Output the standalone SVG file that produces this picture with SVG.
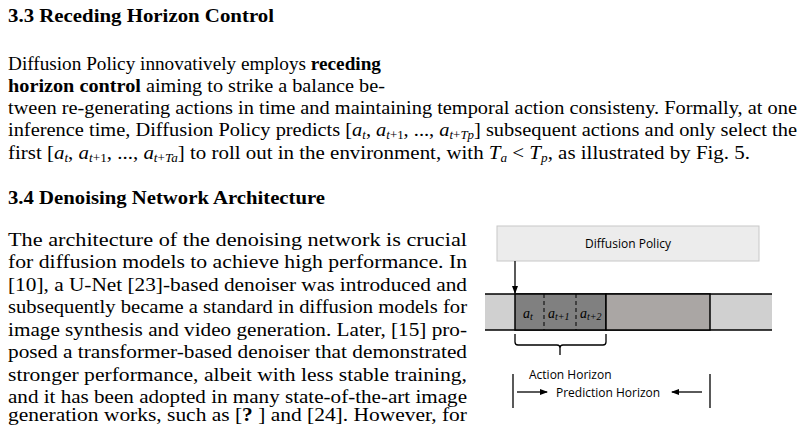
<svg xmlns="http://www.w3.org/2000/svg" width="804" height="426" viewBox="0 0 804 426">
<style>
.t{font-family:"Liberation Serif",serif;font-size:19px;fill:#000}
.h{font-family:"Liberation Serif",serif;font-size:19px;font-weight:bold}
.i{font-style:italic}
.s{font-size:12px}
.f{font-family:"Open Sans","Liberation Sans",sans-serif;font-size:12px;fill:#000}
.m{font-family:"Liberation Serif",serif;font-style:italic;font-size:14px}
.ms{font-size:10px}
</style>
<defs><marker id="ah" markerWidth="8" markerHeight="8" refX="7" refY="4" orient="auto" markerUnits="userSpaceOnUse"><path d="M0,1 L8,4 L0,7 Z" fill="#000"/></marker></defs>
<text class="h" x="8" y="22" textLength="266" lengthAdjust="spacingAndGlyphs">3.3    Receding Horizon Control</text>
<text class="t" x="8" y="70" textLength="373" lengthAdjust="spacingAndGlyphs">Diffusion Policy innovatively employs <tspan font-weight="bold">receding</tspan></text>
<text class="t" x="8" y="92" textLength="377" lengthAdjust="spacingAndGlyphs"><tspan font-weight="bold">horizon control</tspan> aiming to strike a balance be-</text>
<text class="t" x="8" y="114" textLength="789" lengthAdjust="spacingAndGlyphs">tween re-generating actions in time and maintaining temporal action consisteny. Formally, at one</text>
<text class="t" x="8" y="136" textLength="789" lengthAdjust="spacingAndGlyphs">inference time, Diffusion Policy predicts [<tspan class="i">a</tspan><tspan class="s i" dy="3">t</tspan><tspan dy="-3">, </tspan><tspan class="i">a</tspan><tspan class="s" dy="3"><tspan class="i">t</tspan>+1</tspan><tspan dy="-3">, ..., </tspan><tspan class="i">a</tspan><tspan class="s" dy="3"><tspan class="i">t</tspan>+<tspan class="i">T</tspan><tspan class="i">p</tspan></tspan><tspan dy="-3">] subsequent actions and only select the</tspan></text>
<text class="t" x="8" y="159" textLength="742" lengthAdjust="spacingAndGlyphs">first [<tspan class="i">a</tspan><tspan class="s i" dy="3">t</tspan><tspan dy="-3">, </tspan><tspan class="i">a</tspan><tspan class="s" dy="3"><tspan class="i">t</tspan>+1</tspan><tspan dy="-3">, ..., </tspan><tspan class="i">a</tspan><tspan class="s" dy="3"><tspan class="i">t</tspan>+<tspan class="i">T</tspan><tspan class="i">a</tspan></tspan><tspan dy="-3">] to roll out in the environment, with </tspan><tspan class="i">T</tspan><tspan class="s i" dy="3">a</tspan><tspan dy="-3"> &lt; </tspan><tspan class="i">T</tspan><tspan class="s i" dy="3">p</tspan><tspan dy="-3">, as illustrated by Fig. 5.</tspan></text>
<text class="h" x="8" y="204" textLength="317" lengthAdjust="spacingAndGlyphs">3.4    Denoising Network Architecture</text>
<text class="t" x="8" y="246" textLength="459" lengthAdjust="spacingAndGlyphs">The architecture of the denoising network is crucial</text>
<text class="t" x="8" y="268" textLength="459" lengthAdjust="spacingAndGlyphs">for diffusion models to achieve high performance. In</text>
<text class="t" x="8" y="291" textLength="459" lengthAdjust="spacingAndGlyphs">[10], a U-Net [23]-based denoiser was introduced and</text>
<text class="t" x="8" y="313" textLength="459" lengthAdjust="spacingAndGlyphs">subsequently became a standard in diffusion models for</text>
<text class="t" x="8" y="336" textLength="459" lengthAdjust="spacingAndGlyphs">image synthesis and video generation. Later, [15] pro-</text>
<text class="t" x="8" y="358" textLength="459" lengthAdjust="spacingAndGlyphs">posed a transformer-based denoiser that demonstrated</text>
<text class="t" x="8" y="381" textLength="459" lengthAdjust="spacingAndGlyphs">stronger performance, albeit with less stable training,</text>
<text class="t" x="8" y="403" textLength="459" lengthAdjust="spacingAndGlyphs">and it has been adopted in many state-of-the-art image</text>
<text class="t" x="8" y="421" textLength="459" lengthAdjust="spacingAndGlyphs">generation works, such as [<tspan font-weight="bold">?</tspan> ] and [24]. However, for</text>
<g id="policy"><rect x="497" y="226" width="262" height="35" fill="#ececec" stroke="#c8c8c8"/><text class="f" x="628" y="248" text-anchor="middle">Diffusion Policy</text></g>
<g id="band">
<rect x="485" y="294" width="287" height="36" fill="#d0d0d0"/>
<line x1="485" y1="294" x2="772" y2="294" stroke="#000" stroke-width="1.5"/>
<line x1="485" y1="330" x2="772" y2="330" stroke="#000" stroke-width="1.5"/>
</g>
<g id="action"><rect x="515" y="294" width="91" height="36" fill="#808080" stroke="#000" stroke-width="1.5"/>
<line x1="544" y1="294" x2="544" y2="330" stroke="#000" stroke-dasharray="4,3"/>
<line x1="576" y1="294" x2="576" y2="330" stroke="#000" stroke-dasharray="4,3"/>
<text class="m" x="523" y="318">a<tspan class="ms" dy="2">t</tspan></text>
<text class="m" x="548" y="318">a<tspan class="ms" dy="2">t+1</tspan></text>
<text class="m" x="580" y="318">a<tspan class="ms" dy="2">t+2</tspan></text></g>
<g id="pred"><rect x="606" y="294" width="104" height="36" fill="#aaa6a4" stroke="#000" stroke-width="1.5"/></g>
<g id="connectors" fill="none" stroke="#000" stroke-width="1.3">
<line x1="515" y1="261" x2="515" y2="293" marker-end="url(#ah)"/>
<path d="M515,334 V342 Q515,345 518,345 H557 Q560,345 560,348 V355 M560,348 Q560,345 563,345 H603 Q606,345 606,342 V334"/>
<line x1="513" y1="374" x2="513" y2="408"/>
<line x1="710" y1="374" x2="710" y2="408"/>
<line x1="517" y1="392" x2="547" y2="392" marker-end="url(#ah)"/>
<line x1="702" y1="392" x2="672" y2="392" marker-end="url(#ah)"/>
</g>
<text class="f" x="529" y="379">Action Horizon</text>
<text class="f" x="556" y="397">Prediction Horizon</text>
</svg>
